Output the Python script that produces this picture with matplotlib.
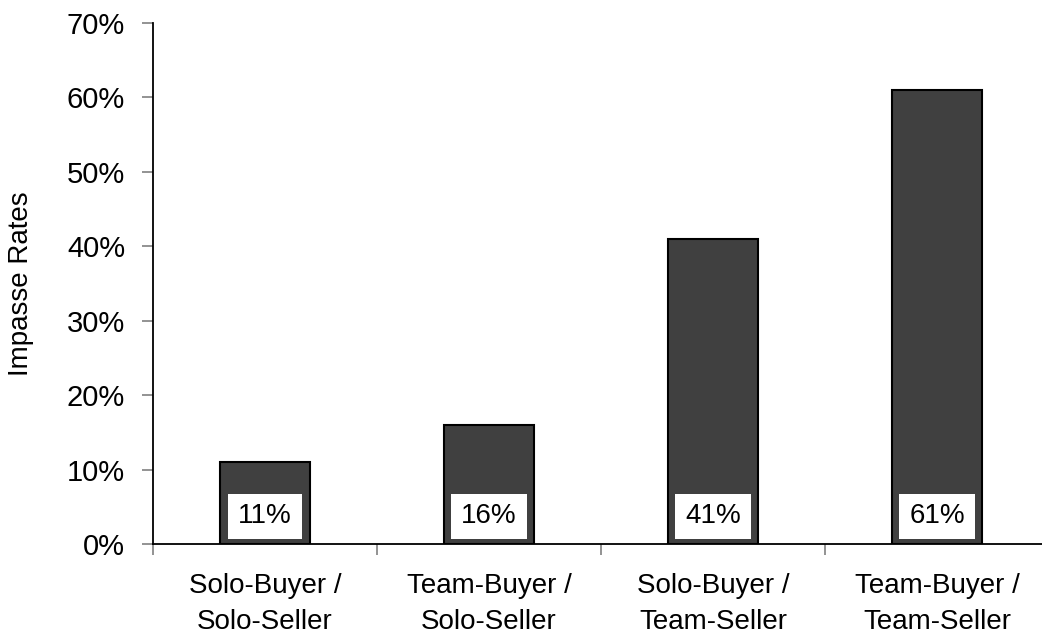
import matplotlib
matplotlib.use("Agg")
import matplotlib.pyplot as plt
import numpy as np

plt.rcParams['font.family'] = ['Liberation Sans', 'DejaVu Sans']

categories = ["Solo-Buyer /\nSolo-Seller", "Team-Buyer /\nSolo-Seller",
              "Solo-Buyer /\nTeam-Seller", "Team-Buyer /\nTeam-Seller"]
values = [11, 16, 41, 61]
labels = ["11%", "16%", "41%", "61%"]
yticks = [0, 10, 20, 30, 40, 50, 60, 70]

fig = plt.figure(figsize=(10.42, 6.35), dpi=100)
# axes runs a bit past the right edge, like the cropped original
ax = fig.add_axes([153 / 1042, 91 / 635, 896 / 1042, 521 / 635])

x = np.arange(len(values))
ax.bar(x, values, width=0.405, color='#404040', edgecolor='black', linewidth=1.5, zorder=2)

for xi, lab in zip(x, labels):
    ax.text(xi, 3.7, lab, ha='center', va='center', fontsize=20, zorder=3,
            bbox=dict(facecolor='white', edgecolor='none', pad=7))

ax.set_xlim(-0.5, len(values) - 0.5)
ax.set_ylim(0, 70)
ax.set_yticks(yticks)
ax.set_yticklabels([f"{t}%" for t in yticks], fontsize=21)

ax.set_xticks(x)
ax.set_xticklabels(categories, fontsize=20, linespacing=1.5)
ax.set_xticks(np.arange(len(values) + 1) - 0.5, minor=True)
ax.tick_params(axis='x', which='major', length=0, pad=21)
ax.tick_params(axis='x', which='minor', length=8, color='#808080', width=1.2)
ax.tick_params(axis='y', length=8, color='#808080', width=1.2, pad=12)

ax.set_ylabel("Impasse Rates", fontsize=20, labelpad=24)

for side in ['top', 'right']:
    ax.spines[side].set_visible(False)
for side in ['left', 'bottom']:
    ax.spines[side].set_linewidth(1.3)
    ax.spines[side].set_color('black')

fig.savefig("out.png", dpi=100)
